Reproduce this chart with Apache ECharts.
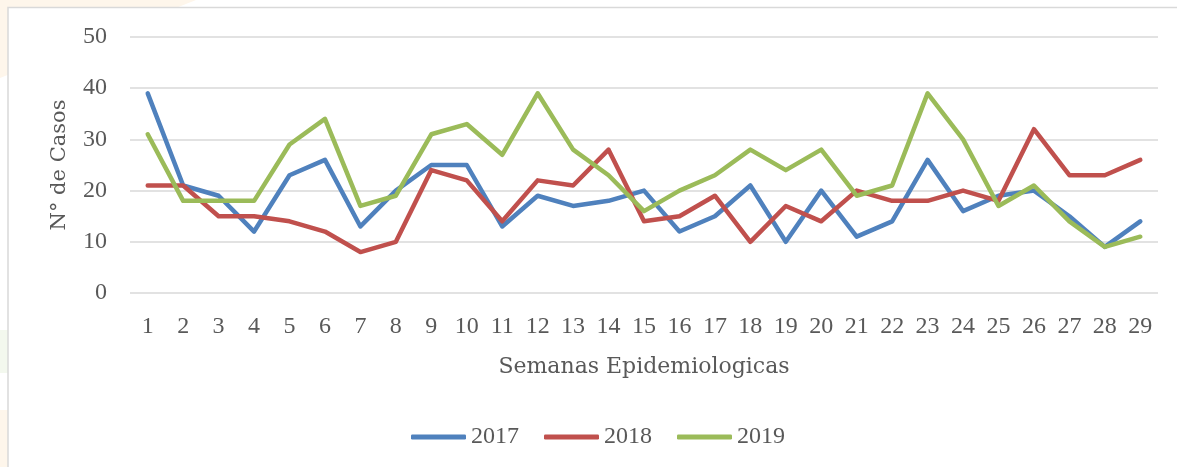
<!DOCTYPE html>
<html>
<head>
<meta charset="utf-8">
<style>
html,body{margin:0;padding:0;background:#fff;}
#c{width:1177px;height:467px;}
</style>
<script src="https://cdn.jsdelivr.net/npm/echarts@6/dist/echarts.min.js"></script>
</head>
<body>
<div id="c"></div>
<script>
const weeks = ['1','2','3','4','5','6','7','8','9','10','11','12','13','14','15','16','17','18','19','20','21','22','23','24','25','26','27','28','29'];
const yTicks = [0, 10, 20, 30, 40, 50];
const s2017 = [39,21,19,12,23,26,13,20,25,25,13,19,17,18,20,12,15,21,10,20,11,14,26,16,19,20,15,9,14];
const s2018 = [21,21,15,15,14,12,8,10,24,22,14,22,21,28,14,15,19,10,17,14,20,18,18,20,18,32,23,23,26];
const s2019 = [31,18,18,18,29,34,17,19,31,33,27,39,28,23,16,20,23,28,24,28,19,21,39,30,17,21,14,9,11];

const chart = echarts.init(document.getElementById('c'), null, {renderer:'canvas'});
const tickFont = 'Liberation Serif';
const nameFont = 'DejaVu Serif';
function mkSeries(name, data, color){
  return {name, type:'line', data, symbol:'none', smooth:false,
    lineStyle:{color, width:4.5, join:'round', cap:'round'}, itemStyle:{color}};
}
chart.setOption({
  animation:false,
  backgroundColor:'#fff',
  graphic:[
    {type:'polygon', z:-10, shape:{points:[[0,0],[196,0],[0,78]]}, style:{fill:'#FEF6EB'}},
    {type:'rect', z:-10, shape:{x:0,y:330,width:8,height:43}, style:{fill:'#F3F8EE'}},
    {type:'rect', z:-10, shape:{x:0,y:410,width:8,height:57}, style:{fill:'#FEF6EB'}},
    {type:'rect', z:-9, shape:{x:8,y:7.5,width:1180,height:470}, style:{fill:'#fff', stroke:'#D9D9D9', lineWidth:1.5}}
  ],
  grid:{left:130, right:19, top:37, bottom:174, containLabel:false},
  legend:{
    data:['2017','2018','2019'], left:406, top:420,
    icon:'roundRect', itemWidth:55, itemHeight:5, itemGap:25,
    textStyle:{fontFamily:tickFont, fontSize:24, color:'#595959'}
  },
  xAxis:{
    type:'category', data:weeks, boundaryGap:true,
    name:'Semanas Epidemiologicas', nameLocation:'middle', nameGap:63,
    nameTextStyle:{fontFamily:nameFont, fontSize:22, color:'#595959'},
    axisLine:{show:false}, axisTick:{show:false},
    axisLabel:{interval:0, margin:22, fontFamily:tickFont, fontSize:24, color:'#595959'}
  },
  yAxis:{
    type:'value', min:yTicks[0], max:yTicks[yTicks.length-1], interval:10,
    name:'N° de Casos', nameLocation:'middle', nameGap:60,
    nameTextStyle:{fontFamily:nameFont, fontSize:21, color:'#595959'},
    axisLine:{show:false}, axisTick:{show:false},
    axisLabel:{margin:23, fontFamily:tickFont, fontSize:24, color:'#595959'},
    splitLine:{lineStyle:{color:'#D9D9D9', width:1.5}}
  },
  series:[
    mkSeries('2017', s2017, '#4F81BD'),
    mkSeries('2018', s2018, '#C0504D'),
    mkSeries('2019', s2019, '#9BBB59')
  ]
});
</script>
</body>
</html>
